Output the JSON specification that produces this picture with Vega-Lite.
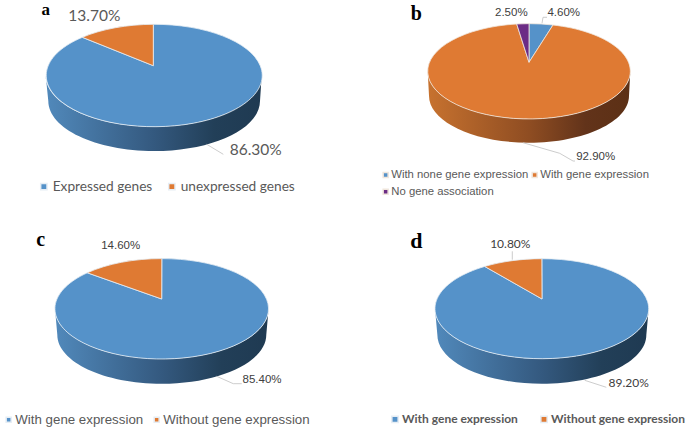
{"$schema":"https://vega.github.io/schema/vega-lite/v6.json","padding":0,"background":"white","spacing":0,"columns":2,"resolve":{"scale":{"color":"independent"},"legend":{"color":"independent"}},"config":{"view":{"stroke":null},"legend":{"title":null,"labelLimit":300}},
"concat":[
{"width":342,"height":218,"data":{"values":[{"panel":"a","label":"Expressed genes","value":0.863},{"panel":"a","label":"unexpressed genes","value":0.137}]},
"encoding":{"color":{"field":"label","type":"nominal","scale":{"domain":["Expressed genes","unexpressed genes"],"range":["#5592c9","#df7a33"]},"legend":{"orient":"none","legendX":37,"legendY":179.5,"direction":"horizontal","columns":2,"symbolType":"square","symbolSize":40,"labelFont":"Lato","labelFontSize":13.7,"labelColor":"#595959","columnPadding":12,"labelOffset":2}}},
"layer":[
{"transform":[{"filter":"datum.label==='Expressed genes'"}],"mark":{"type":"point","filled":true,"opacity":1,"size":4,"shape":"M-125.3,-33.5 L-122.7,-8 A105.8,50 0 0 0 89,-8 L90.7,-33.5 A108,51.2 0 0 1 -125.3,-33.5 Z","fill":{"gradient":"linear","x1":0,"y1":0,"x2":1,"y2":0,"stops":[{"offset":0,"color":"#5189bb"},{"offset":0.5,"color":"#34597f"},{"offset":0.78,"color":"#223f58"},{"offset":1,"color":"#1f3a52"}]}},"encoding":{"color":{"value":null}}},
{"transform":[{"filter":"datum.label==='Expressed genes'"}],"mark":{"type":"point","filled":true,"opacity":1,"size":4,"stroke":"#e6edf4","strokeWidth":0.8,"shape":"M-17.7,-43.3 L-17.7,-84.7 A108,51.2 0 1 1 -88.7,-71.7 Z"}},
{"transform":[{"filter":"datum.label==='unexpressed genes'"}],"mark":{"type":"point","filled":true,"opacity":1,"size":4,"stroke":"#e6edf4","strokeWidth":0.8,"shape":"M-17.7,-43.3 L-88.7,-71.7 A108,51.2 0 0 1 -17.7,-84.7 Z"}},
{"transform":[{"filter":"datum.label==='Expressed genes'"}],"mark":{"type":"point","filled":false,"opacity":1,"size":4,"stroke":"#bfbfbf","strokeWidth":0.8,"shape":"M35.7,35.3 L52.3,45.3"},"encoding":{"color":{"value":"#bfbfbf"}}},
{"transform":[{"filter":"datum.label==='Expressed genes'"}],"mark":{"type":"text","font":"Lato","fontSize":15.5,"dx":84.7,"dy":41.3},"encoding":{"color":{"value":"#595959"},"text":{"field":"value","type":"quantitative","format":".2%"}}},
{"transform":[{"filter":"datum.label==='unexpressed genes'"}],"mark":{"type":"text","font":"Lato","fontSize":15.5,"dx":-76.7,"dy":-93.3},"encoding":{"color":{"value":"#595959"},"text":{"field":"value","type":"quantitative","format":".2%"}}},
{"transform":[{"filter":"datum.label==='Expressed genes'"}],"mark":{"type":"text","font":"Liberation Serif","fontWeight":"bold","fontSize":17,"dx":-125.3,"dy":-99},"encoding":{"color":{"value":"black"},"text":{"field":"panel","type":"nominal"}}}
]},
{"width":342,"height":218,"data":{"values":[{"panel":"b","label":"With none gene expression","value":0.046},{"panel":"b","label":"With gene expression","value":0.929},{"panel":"b","label":"No gene association","value":0.025}]},
"encoding":{"color":{"field":"label","type":"nominal","scale":{"domain":["With none gene expression","With gene expression","No gene association"],"range":["#5592c9","#df7a33","#6b2c85"]},"legend":{"orient":"none","legendX":38,"legendY":169,"direction":"horizontal","columns":2,"symbolType":"square","symbolSize":25,"labelFont":"Liberation Sans","labelFontSize":11.3,"labelColor":"#595959","columnPadding":0,"rowPadding":4,"labelOffset":0}}},
"layer":[
{"transform":[{"filter":"datum.label==='With gene expression'"}],"mark":{"type":"point","filled":true,"opacity":1,"size":4,"shape":"M-85.3,-37.7 L-84,-13.3 A100,47 0 0 0 116,-13.3 L117.3,-37.7 A101.3,47.65 0 0 1 -85.3,-37.7 Z","fill":{"gradient":"linear","x1":0,"y1":0,"x2":1,"y2":0,"stops":[{"offset":0,"color":"#c7722f"},{"offset":0.5,"color":"#8f4d22"},{"offset":0.78,"color":"#62331a"},{"offset":1,"color":"#5c3015"}]}},"encoding":{"color":{"value":null}}},
{"transform":[{"filter":"datum.label==='With none gene expression'"}],"mark":{"type":"point","filled":true,"opacity":1,"size":4,"stroke":"#f0e6dc","strokeWidth":0.8,"shape":"M16,-46.7 L16,-85.35 A101.3,47.65 0 0 1 40,-84 Z"}},
{"transform":[{"filter":"datum.label==='With gene expression'"}],"mark":{"type":"point","filled":true,"opacity":1,"size":4,"stroke":"#f0e6dc","strokeWidth":0.8,"shape":"M16,-46.7 L40,-84 A101.3,47.65 0 1 1 3.7,-85 Z"}},
{"transform":[{"filter":"datum.label==='No gene association'"}],"mark":{"type":"point","filled":true,"opacity":1,"size":4,"stroke":"#f0e6dc","strokeWidth":0.8,"shape":"M16,-46.7 L3.7,-85 A101.3,47.65 0 0 1 16,-85.35 Z"}},
{"transform":[{"filter":"datum.label==='With gene expression'"}],"mark":{"type":"point","filled":false,"opacity":1,"size":4,"strokeWidth":0.8,"shape":"M10,33.7 L46.7,44.3 L60,52 L62,52"},"encoding":{"color":{"value":"#bfbfbf"}}},
{"transform":[{"filter":"datum.label==='With none gene expression'"}],"mark":{"type":"point","filled":false,"opacity":1,"size":4,"strokeWidth":0.8,"shape":"M29,-85.7 L30,-91.7 L34,-91.7"},"encoding":{"color":{"value":"#bfbfbf"}}},
{"transform":[{"filter":"datum.label==='With gene expression'"}],"mark":{"type":"text","font":"Liberation Sans","fontSize":11.5,"dx":82.7,"dy":48.3},"encoding":{"color":{"value":"#404040"},"text":{"field":"value","type":"quantitative","format":".2%"}}},
{"transform":[{"filter":"datum.label==='With none gene expression'"}],"mark":{"type":"text","font":"Liberation Sans","fontSize":11.5,"dx":50.7,"dy":-96},"encoding":{"color":{"value":"#404040"},"text":{"field":"value","type":"quantitative","format":".2%"}}},
{"transform":[{"filter":"datum.label==='No gene association'"}],"mark":{"type":"text","font":"Liberation Sans","fontSize":11.5,"dx":-1.7,"dy":-96},"encoding":{"color":{"value":"#404040"},"text":{"field":"value","type":"quantitative","format":".2%"}}},
{"transform":[{"filter":"datum.label==='With gene expression'"}],"mark":{"type":"text","font":"Liberation Serif","fontWeight":"bold","fontSize":20,"dx":-96.7,"dy":-95},"encoding":{"color":{"value":"black"},"text":{"field":"panel","type":"nominal"}}}
]},
{"width":342,"height":218,"data":{"values":[{"panel":"c","label":"With gene expression","value":0.854},{"panel":"c","label":"Without gene expression","value":0.146}]},
"encoding":{"color":{"field":"label","type":"nominal","scale":{"domain":["With gene expression","Without gene expression"],"range":["#5592c9","#df7a33"]},"legend":{"orient":"none","legendX":2,"legendY":195,"direction":"horizontal","columns":2,"symbolType":"square","symbolSize":25,"labelFont":"Liberation Sans","labelFontSize":13.3,"labelColor":"#595959","columnPadding":6,"labelOffset":0}}},
"layer":[
{"transform":[{"filter":"datum.label==='With gene expression'"}],"mark":{"type":"point","filled":true,"opacity":1,"size":4,"shape":"M-116,-18.2 L-113.7,7.7 A104.5,49 0 0 0 95.3,7.7 L97.6,-18.2 A106.8,50.2 0 0 1 -116,-18.2 Z","fill":{"gradient":"linear","x1":0,"y1":0,"x2":1,"y2":0,"stops":[{"offset":0,"color":"#5189bb"},{"offset":0.5,"color":"#34597f"},{"offset":0.78,"color":"#223f58"},{"offset":1,"color":"#1f3a52"}]}},"encoding":{"color":{"value":null}}},
{"transform":[{"filter":"datum.label==='With gene expression'"}],"mark":{"type":"point","filled":true,"opacity":1,"size":4,"stroke":"#e6edf4","strokeWidth":0.8,"shape":"M-9.3,-28 L-9.2,-68.4 A106.8,50.2 0 1 1 -83.7,-54.2 Z"}},
{"transform":[{"filter":"datum.label==='Without gene expression'"}],"mark":{"type":"point","filled":true,"opacity":1,"size":4,"stroke":"#e6edf4","strokeWidth":0.8,"shape":"M-9.3,-28 L-83.7,-54.2 A106.8,50.2 0 0 1 -9.2,-68.4 Z"}},
{"transform":[{"filter":"datum.label==='With gene expression'"}],"mark":{"type":"point","filled":false,"opacity":1,"size":4,"strokeWidth":0.8,"shape":"M45.7,49.3 L62.3,56.7 L70.7,56.7"},"encoding":{"color":{"value":"#bfbfbf"}}},
{"transform":[{"filter":"datum.label==='With gene expression'"}],"mark":{"type":"text","font":"Liberation Sans","fontSize":11.5,"dx":91,"dy":53.3},"encoding":{"color":{"value":"#404040"},"text":{"field":"value","type":"quantitative","format":".2%"}}},
{"transform":[{"filter":"datum.label==='Without gene expression'"}],"mark":{"type":"text","font":"Liberation Sans","fontSize":11.5,"dx":-50.3,"dy":-81.3},"encoding":{"color":{"value":"#404040"},"text":{"field":"value","type":"quantitative","format":".2%"}}},
{"transform":[{"filter":"datum.label==='With gene expression'"}],"mark":{"type":"text","font":"Liberation Serif","fontWeight":"bold","fontSize":20,"dx":-130.3,"dy":-87},"encoding":{"color":{"value":"black"},"text":{"field":"panel","type":"nominal"}}}
]},
{"width":342,"height":218,"data":{"values":[{"panel":"d","label":"With gene expression","value":0.892},{"panel":"d","label":"Without gene expression","value":0.108}]},
"encoding":{"color":{"field":"label","type":"nominal","scale":{"domain":["With gene expression","Without gene expression"],"range":["#5592c9","#df7a33"]},"legend":{"orient":"none","legendX":47,"legendY":195,"direction":"horizontal","columns":2,"symbolType":"square","symbolSize":40,"labelFont":"Lato","labelFontSize":12,"labelFontWeight":"bold","labelColor":"#595959","columnPadding":19,"labelOffset":1}}},
"layer":[
{"transform":[{"filter":"datum.label==='With gene expression'"}],"mark":{"type":"point","filled":true,"opacity":1,"size":4,"shape":"M-78,-18.3 L-75.65,7.7 A104.5,49 0 0 0 133.35,7.7 L135.7,-18.3 A106.85,50 0 0 1 -78,-18.3 Z","fill":{"gradient":"linear","x1":0,"y1":0,"x2":1,"y2":0,"stops":[{"offset":0,"color":"#5189bb"},{"offset":0.5,"color":"#34597f"},{"offset":0.78,"color":"#223f58"},{"offset":1,"color":"#1f3a52"}]}},"encoding":{"color":{"value":null}}},
{"transform":[{"filter":"datum.label==='With gene expression'"}],"mark":{"type":"point","filled":true,"opacity":1,"size":4,"stroke":"#e6edf4","strokeWidth":0.8,"shape":"M29,-28 L28.85,-68.3 A106.85,50 0 1 1 -28.3,-60.55 Z"}},
{"transform":[{"filter":"datum.label==='Without gene expression'"}],"mark":{"type":"point","filled":true,"opacity":1,"size":4,"stroke":"#e6edf4","strokeWidth":0.8,"shape":"M29,-28 L-28.3,-60.55 A106.85,50 0 0 1 28.85,-68.3 Z"}},
{"transform":[{"filter":"datum.label==='With gene expression'"}],"mark":{"type":"point","filled":false,"opacity":1,"size":4,"strokeWidth":0.8,"shape":"M71.7,53.3 L93.3,60.3"},"encoding":{"color":{"value":"#bfbfbf"}}},
{"transform":[{"filter":"datum.label==='Without gene expression'"}],"mark":{"type":"point","filled":false,"opacity":1,"size":4,"strokeWidth":0.8,"shape":"M-0.7,-67.3 L-0.7,-75.7"},"encoding":{"color":{"value":"#bfbfbf"}}},
{"transform":[{"filter":"datum.label==='With gene expression'"}],"mark":{"type":"text","font":"Lato","fontSize":12,"dx":115.7,"dy":56},"encoding":{"color":{"value":"#404040"},"text":{"field":"value","type":"quantitative","format":".2%"}}},
{"transform":[{"filter":"datum.label==='Without gene expression'"}],"mark":{"type":"text","font":"Lato","fontSize":12,"dx":-2.7,"dy":-83},"encoding":{"color":{"value":"#404040"},"text":{"field":"value","type":"quantitative","format":".2%"}}},
{"transform":[{"filter":"datum.label==='With gene expression'"}],"mark":{"type":"text","font":"Liberation Serif","fontWeight":"bold","fontSize":22,"dx":-96.7,"dy":-86},"encoding":{"color":{"value":"black"},"text":{"field":"panel","type":"nominal"}}}
]}
]}
